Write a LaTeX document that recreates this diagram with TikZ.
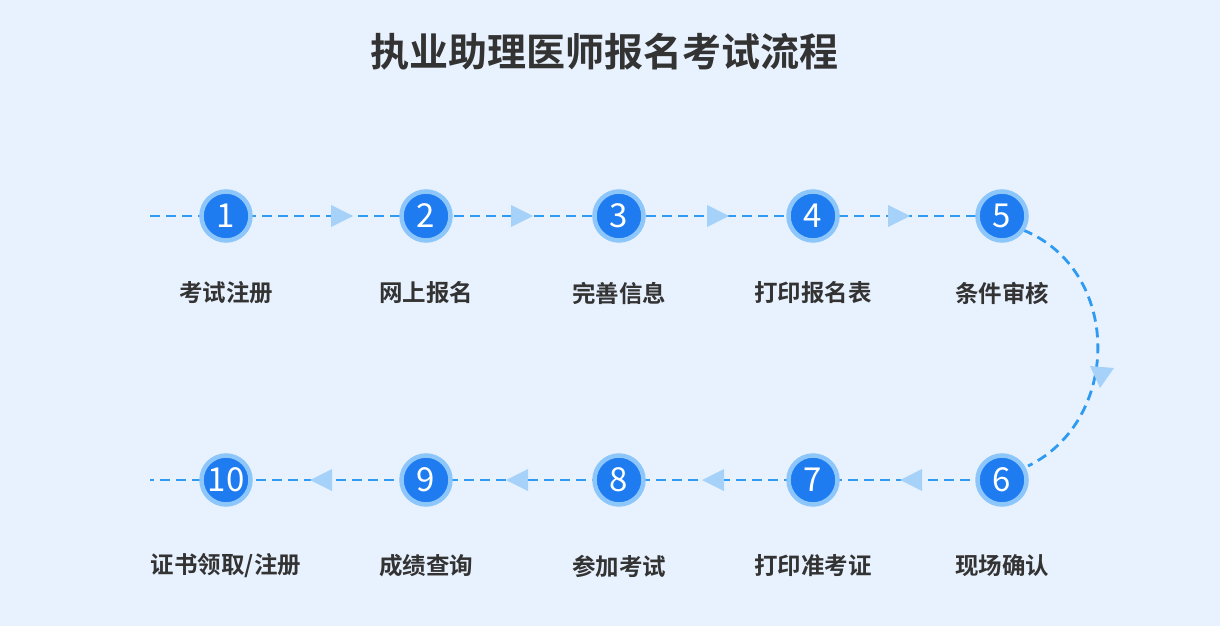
\documentclass[tikz,border=0pt]{standalone}
\usepackage{fontspec}
\setmainfont{Noto Sans CJK SC}
\newfontfamily\cjkb{Noto Sans CJK SC Bold}
\definecolor{bg}{HTML}{E8F2FE}
\definecolor{ring}{HTML}{8CC6FA}
\definecolor{core}{HTML}{1F7CF0}
\definecolor{dash}{HTML}{2E9AF2}
\definecolor{tri}{HTML}{A6D2FA}
\definecolor{txt}{HTML}{333333}
\begin{document}
\begin{tikzpicture}[x=1pt,y=-1pt,
  stepc/.style={circle,fill=core,draw=ring,line width=4.5pt,minimum size=49pt,inner sep=0pt,text=white,font=\fontsize{33}{33}\selectfont},
  lab/.style={text=txt,font=\cjkb\fontsize{23.5}{23.5}\selectfont},
  conn/.style={draw=dash,line width=2.8pt,dash pattern=on 10pt off 6pt},
  tr/.style={fill=tri}]
\fill[bg] (0,0) rectangle (1220,626);
\useasboundingbox (0,0) rectangle (1220,626);
\node[text=txt,font=\cjkb\fontsize{39}{39}\selectfont] (title) at (604,52) {执业助理医师报名考试流程};
\coordinate (s) at (150,216);
\coordinate (e) at (150,480);
\foreach \i/\x/\t in {1/226/考试注册,2/426/网上报名,3/619/完善信息,4/813/打印报名表,5/1002/条件审核}{
  \node[lab] (l\i) at (\x,293) {\t};}
\foreach \i/\x/\t in {6/1002/现场确认,7/813/打印准考证,8/619/参加考试,9/426/成绩查询,10/226/{证书领取/注册}}{
  \node[lab] (l\i) at (\x,566) {\t};}
\path[conn] (s) -- (1002,216);
\path[conn] (1002,480) -- (e);
\path[conn] (1023,230) .. controls (1122,270) and (1122,420) .. (1028,466);
\foreach \x in {341,521,717,898}{\fill[tr] (\x-10,205) -- (\x+12,216) -- (\x-10,227) -- cycle;}
\foreach \x in {322,518,714,912}{\fill[tr] (\x+10,469) -- (\x-12,480) -- (\x+10,491) -- cycle;}
\fill[tr] (1090,366) -- (1114,368) -- (1100,388) -- cycle;
\foreach \i/\x in {1/226,2/426,3/619,4/813,5/1002}{\node[stepc] (c\i) at (\x,216) {\i};}
\foreach \i/\x in {6/1002,7/813,8/619,9/426,10/226}{\node[stepc] (c\i) at (\x,480) {\i};}
\end{tikzpicture}
\end{document}
